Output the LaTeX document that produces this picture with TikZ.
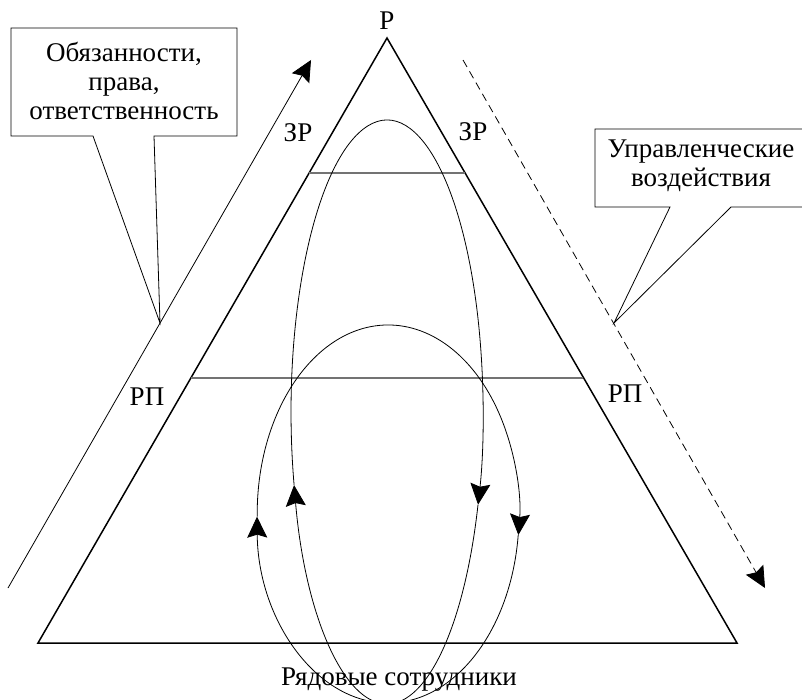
\documentclass[tikz,border=0pt]{standalone}
\usepackage{fontspec}
\setmainfont{Liberation Serif}
\usetikzlibrary{arrows.meta}
\begin{document}
\begin{tikzpicture}[x=1pt,y=-1pt,
  tri/.style={line width=1.5pt, line join=miter},
  level/.style={line width=1.5pt, draw=black!55},
  thinline/.style={line width=0.8pt},
  tipped/.style={-{Stealth[length=21pt,width=20pt,inset=3pt]}},
  lbl/.style={font=\fontsize{27}{29}\selectfont, inner sep=0pt},
  callout/.style={line width=0.8pt, fill=white, line join=miter}]
\useasboundingbox (0,0) rectangle (802,700);
% triangle
\coordinate (A) at (387,38);
\coordinate (B) at (38,643);
\coordinate (C) at (737,643);
\draw[tri] (A) -- (B) -- (C) -- cycle;
% levels
\coordinate (L1a) at (309,173);
\coordinate (L1b) at (465,173);
\coordinate (L2a) at (191,378);
\coordinate (L2b) at (583,378);
\draw[level] (L1a) -- (L1b);
\draw[level] (L2a) -- (L2b);
% ellipses (clipped at the bottom)
\begin{scope}
\clip (0,0) rectangle (802,700);
% tall ellipse: centre (387,412), rx 96, ry 292
\coordinate (T0) at (387,704);
\coordinate (T1) at (294.1,485.1);
\coordinate (T2) at (478.0,504.7);
\draw[thinline,tipped] (T0) arc[start angle=90, end angle=165.5, x radius=96, y radius=292];
\draw[thinline,tipped] (T1) arc[start angle=165.5, end angle=378.5, x radius=96, y radius=292];
\draw[thinline] (T2) arc[start angle=18.5, end angle=90, x radius=96, y radius=292];
% short ellipse: centre (388,514), rx 131, ry 189
\coordinate (S0) at (388,703);
\coordinate (S1) at (257.2,516.6);
\coordinate (S2) at (518.2,535.1);
\draw[thinline,tipped] (S0) arc[start angle=90, end angle=179.2, x radius=131, y radius=189];
\draw[thinline,tipped] (S1) arc[start angle=179.2, end angle=366.4, x radius=131, y radius=189];
\draw[thinline] (S2) arc[start angle=6.4, end angle=90, x radius=131, y radius=189];
\end{scope}
% side arrows
\coordinate (la0) at (8,588);
\coordinate (la1) at (311,60);
\draw[thinline,tipped] (la0) -- (la1);
\coordinate (ra0) at (463,60);
\coordinate (ra1) at (765,588);
\draw[thinline,tipped,dash pattern=on 8pt off 5pt] (ra0) -- (ra1);
% callouts
\draw[callout] (11,28) -- (237,28) -- (237,136) -- (154,136) -- (160,323) -- (93,136) -- (11,136) -- cycle;
\node[lbl, align=center] (duties) at (124,81) {Обязанности,\\права,\\ответственность};
\draw[callout] (803,129) -- (595,129) -- (595,207) -- (670,207) -- (614,323) -- (731,207) -- (803,207);
\node[lbl, align=center] (actions) at (701,166) {Управленческие\\воздействия};
% labels
\node[lbl] (p) at (387,21) {Р};
\node[lbl] (zr1) at (298,133) {ЗР};
\node[lbl] (zr2) at (473,132) {ЗР};
\node[lbl] (rp1) at (147,397) {РП};
\node[lbl] (rp2) at (625,394) {РП};
\node[lbl] (staff) at (399,680) {Рядовые сотрудники};
\end{tikzpicture}
\end{document}
